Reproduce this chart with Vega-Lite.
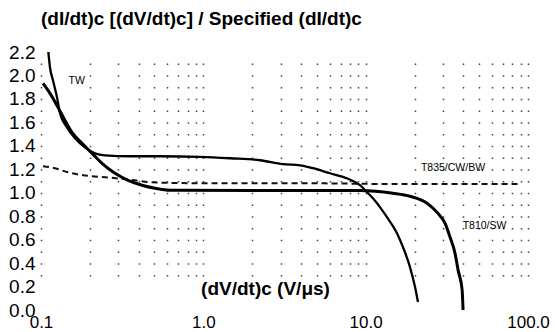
{
  "$schema": "https://vega.github.io/schema/vega-lite/v6.json",
  "width": 487,
  "height": 258,
  "autosize": {"type": "none"},
  "padding": {"left": 41, "top": 52, "right": 27, "bottom": 22},
  "background": "white",
  "config": {
    "view": {"stroke": null},
    "font": "Liberation Sans"
  },
  "title": {
    "text": "(dI/dt)c [(dV/dt)c] / Specified (dI/dt)c",
    "anchor": "start",
    "frame": "group",
    "font": "Liberation Sans",
    "fontSize": 19,
    "fontWeight": "bold",
    "color": "#000",
    "offset": 14
  },
  "datasets": {
    "curves": [
      {"series": "TW", "x": 0.111, "y": 2.2},
      {"series": "TW", "x": 0.1136, "y": 2.068},
      {"series": "TW", "x": 0.1186, "y": 1.957},
      {"series": "TW", "x": 0.1255, "y": 1.813},
      {"series": "TW", "x": 0.1309, "y": 1.677},
      {"series": "TW", "x": 0.1446, "y": 1.557},
      {"series": "TW", "x": 0.162, "y": 1.464},
      {"series": "TW", "x": 0.1866, "y": 1.387},
      {"series": "TW", "x": 0.2151, "y": 1.336},
      {"series": "TW", "x": 0.2479, "y": 1.319},
      {"series": "TW", "x": 0.3535, "y": 1.311},
      {"series": "TW", "x": 0.5408, "y": 1.311},
      {"series": "TW", "x": 0.954, "y": 1.306},
      {"series": "TW", "x": 1.459, "y": 1.294},
      {"series": "TW", "x": 2.235, "y": 1.277},
      {"series": "TW", "x": 3.094, "y": 1.243},
      {"series": "TW", "x": 3.94, "y": 1.234},
      {"series": "TW", "x": 4.738, "y": 1.209},
      {"series": "TW", "x": 6.03, "y": 1.166},
      {"series": "TW", "x": 7.67, "y": 1.123},
      {"series": "TW", "x": 9.23, "y": 1.064},
      {"series": "TW", "x": 10.19, "y": 1.004},
      {"series": "TW", "x": 11.09, "y": 0.953},
      {"series": "TW", "x": 12.25, "y": 0.877},
      {"series": "TW", "x": 13.53, "y": 0.791},
      {"series": "TW", "x": 15.59, "y": 0.655},
      {"series": "TW", "x": 16.98, "y": 0.536},
      {"series": "TW", "x": 18.75, "y": 0.366},
      {"series": "TW", "x": 20.14, "y": 0.196},
      {"series": "TW", "x": 21.0, "y": 0.068},
      {"series": "T810/SW", "x": 0.1029, "y": 1.932},
      {"series": "T810/SW", "x": 0.1136, "y": 1.847},
      {"series": "T810/SW", "x": 0.1273, "y": 1.728},
      {"series": "T810/SW", "x": 0.1405, "y": 1.617},
      {"series": "T810/SW", "x": 0.1552, "y": 1.515},
      {"series": "T810/SW", "x": 0.1789, "y": 1.421},
      {"series": "T810/SW", "x": 0.2062, "y": 1.336},
      {"series": "T810/SW", "x": 0.2376, "y": 1.251},
      {"series": "T810/SW", "x": 0.2857, "y": 1.166},
      {"series": "T810/SW", "x": 0.3436, "y": 1.106},
      {"series": "T810/SW", "x": 0.4189, "y": 1.064},
      {"series": "T810/SW", "x": 0.5036, "y": 1.038},
      {"series": "T810/SW", "x": 0.6233, "y": 1.021},
      {"series": "T810/SW", "x": 2.0, "y": 1.02},
      {"series": "T810/SW", "x": 9.23, "y": 1.02},
      {"series": "T810/SW", "x": 14.73, "y": 0.996},
      {"series": "T810/SW", "x": 18.75, "y": 0.97},
      {"series": "T810/SW", "x": 23.87, "y": 0.911},
      {"series": "T810/SW", "x": 27.5, "y": 0.834},
      {"series": "T810/SW", "x": 30.8, "y": 0.74},
      {"series": "T810/SW", "x": 33.1, "y": 0.621},
      {"series": "T810/SW", "x": 35.5, "y": 0.485},
      {"series": "T810/SW", "x": 37.1, "y": 0.34},
      {"series": "T810/SW", "x": 39.3, "y": 0.17},
      {"series": "T810/SW", "x": 39.8, "y": 0.0},
      {"series": "T835/CW/BW", "x": 0.1029, "y": 1.226},
      {"series": "T835/CW/BW", "x": 0.122, "y": 1.209},
      {"series": "T835/CW/BW", "x": 0.1466, "y": 1.174},
      {"series": "T835/CW/BW", "x": 0.2062, "y": 1.14},
      {"series": "T835/CW/BW", "x": 0.2479, "y": 1.132},
      {"series": "T835/CW/BW", "x": 0.3794, "y": 1.106},
      {"series": "T835/CW/BW", "x": 0.483, "y": 1.089},
      {"series": "T835/CW/BW", "x": 0.954, "y": 1.081},
      {"series": "T835/CW/BW", "x": 3.94, "y": 1.081},
      {"series": "T835/CW/BW", "x": 16.27, "y": 1.074},
      {"series": "T835/CW/BW", "x": 89.3, "y": 1.075}
    ],
    "labels": [
      {"text": "TW", "x": 0.166, "y": 1.95},
      {"text": "T835/CW/BW", "x": 34.5, "y": 1.21},
      {"text": "T810/SW", "x": 54, "y": 0.72}
    ]
  },
  "encoding": {
    "x": {
      "field": "x",
      "type": "quantitative",
      "scale": {"type": "log", "domain": [0.1, 100], "nice": false},
      "axis": {
        "title": "(dV/dt)c (V/\u03bcs)",
        "titleFont": "Liberation Sans",
        "titleFontSize": 19,
        "titleFontWeight": "bold",
        "titleColor": "#000",
        "titleX": 224,
        "titleY": -22,
        "titleAlign": "center",
        "titleBaseline": "middle",
        "titleAnchor": null,
        "values": [0.1, 0.2, 0.3, 0.4, 0.5, 0.6, 0.7, 0.8, 0.9, 1, 2, 3, 4, 5, 6, 7, 8, 9, 10, 20, 30, 40, 50, 60, 70, 80, 90, 100],
        "labelExpr": "indexof([0.1, 1, 10, 100], datum.value) >= 0 ? format(datum.value, '.1f') : ''",
        "labelOverlap": false,
        "labelFlush": false,
        "labelFont": "Liberation Sans",
        "labelFontSize": 17,
        "labelColor": "#000",
        "labelPadding": 4,
        "ticks": false,
        "tickSize": 0,
        "domain": false,
        "grid": true,
        "gridColor": "#444",
        "gridWidth": 1.5,
        "gridOpacity": 1,
        "gridDash": [0, 11, 1.5, 10.25, 1.5, 10.25, 1.5, 10.25, 1.5, 10.25, 1.5, 10.25, 1.5, 10.25, 1.5, 10.25, 1.5, 10.25, 1.5, 10.25, 1.5, 10.25, 1.5, 10.25, 1.5, 10.25, 1.5, 10.25, 1.5, 10.25, 1.5, 10.25, 1.5, 10.25, 1.5, 10.25, 1.5, 10.25, 1.5, 400]
      }
    },
    "y": {
      "field": "y",
      "type": "quantitative",
      "scale": {"domain": [0, 2.2], "nice": false, "zero": true},
      "axis": {
        "title": null,
        "values": [0, 0.2, 0.4, 0.6, 0.8, 1.0, 1.2, 1.4, 1.6, 1.8, 2.0, 2.2],
        "format": ".1f",
        "labelFont": "Liberation Sans",
        "labelFontSize": 19,
        "labelColor": "#000",
        "labelPadding": 6,
        "ticks": false,
        "tickSize": 0,
        "domain": false,
        "grid": false
      }
    }
  },
  "layer": [
    {
      "data": {"name": "curves"},
      "transform": [{"filter": "datum.series === 'T835/CW/BW'"}],
      "mark": {"type": "line", "color": "#111", "strokeWidth": 2, "strokeDash": [6, 4], "interpolate": "monotone"}
    },
    {
      "data": {"name": "curves"},
      "transform": [{"filter": "datum.series === 'TW'"}],
      "mark": {"type": "line", "color": "#000", "strokeWidth": 2.3, "interpolate": "monotone"}
    },
    {
      "data": {"name": "curves"},
      "transform": [{"filter": "datum.series === 'T810/SW'"}],
      "mark": {"type": "line", "color": "#000", "strokeWidth": 3, "interpolate": "monotone"}
    },
    {
      "data": {"name": "labels"},
      "mark": {"type": "text", "font": "Liberation Sans", "fontSize": 10.5, "color": "#000", "align": "center", "baseline": "middle"},
      "encoding": {
        "text": {"field": "text"}
      }
    }
  ]
}
